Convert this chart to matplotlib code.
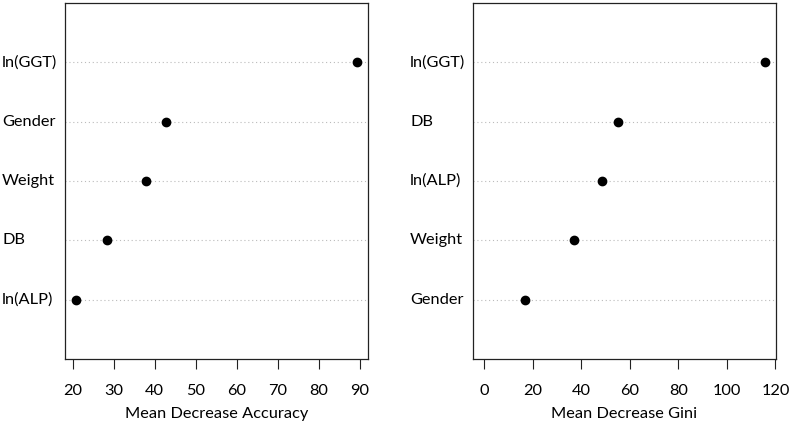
import matplotlib
matplotlib.use("Agg")
import matplotlib.pyplot as plt
from matplotlib.transforms import blended_transform_factory

# Data (ordered top to bottom)
acc_labels = ["ln(GGT)", "Gender", "Weight", "DB", "ln(ALP)"]
acc_values = [89.2, 42.7, 37.8, 28.4, 20.9]
gini_labels = ["ln(GGT)", "DB", "ln(ALP)", "Weight", "Gender"]
gini_values = [115.6, 55.2, 48.7, 37.0, 16.8]
acc_ticks = [20, 30, 40, 50, 60, 70, 80, 90]
gini_ticks = [0, 20, 40, 60, 80, 100, 120]

plt.rcParams['font.family'] = ['Lato', 'DejaVu Sans']

W, H = 791, 425
fig = plt.figure(figsize=(W / 100, H / 100), dpi=100)

FS = 11.8

def panel(rect, labels, values, ticks, xmin, xlabel, label_x):
    ax = fig.add_axes(rect)
    n = len(values)
    ys = list(range(n, 0, -1))
    lo = xmin
    hi = max(values)
    ext = (hi - lo) * 0.04
    ax.set_xlim(lo - ext, hi + ext)
    ax.set_ylim(0, n + 1)
    for y in ys:
        ax.axhline(y, color="#bbbbbb", linestyle=(0, (1, 2.5)), linewidth=0.8, zorder=1)
    ax.plot(values, ys, "o", color="black", markersize=6.0, zorder=3)
    ax.set_yticks([])
    ax.set_xticks(ticks)
    ax.set_xticklabels([str(t) for t in ticks], fontsize=FS)
    ax.tick_params(axis="x", direction="out", length=7.3, width=0.8, pad=11, color="#222222")
    ax.set_xlabel(xlabel, fontsize=FS, labelpad=6)
    for s in ax.spines.values():
        s.set_linewidth(0.9)
        s.set_color("#222222")
    tr = blended_transform_factory(fig.transFigure, ax.transData)
    for lab, y in zip(labels, ys):
        ax.text(label_x, y, lab, transform=tr, ha="left", va="center", fontsize=FS)
    return ax

panel([65 / W, 1 - 359 / H, 303 / W, 356 / H], acc_labels, acc_values, acc_ticks,
      min(acc_values), "Mean Decrease Accuracy", 2 / W)
panel([473 / W, 1 - 359 / H, 303 / W, 356 / H], gini_labels, gini_values, gini_ticks,
      0, "Mean Decrease Gini", 410 / W)

fig.savefig("out.png", dpi=100)
